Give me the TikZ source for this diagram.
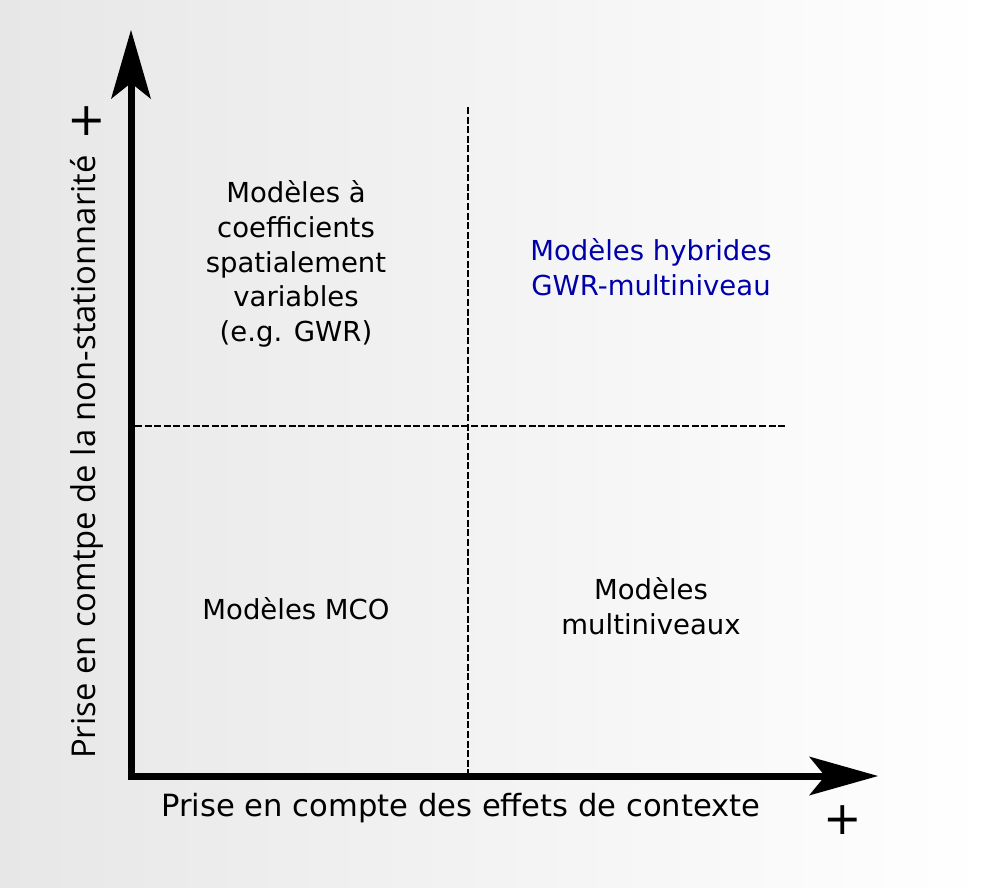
\documentclass[tikz,border=0pt]{standalone}
\usepackage{fontspec}
\setmainfont{DejaVu Sans}
\newfontfamily\vfont{Open Sans}
\usetikzlibrary{arrows.meta}
\definecolor{bgleft}{RGB}{231,231,231}
\definecolor{hyblue}{RGB}{0,0,170}
\tikzset{
  axis/.style={line width=7pt, line cap=butt},
  divider/.style={line width=1.5pt, dash pattern=on 7pt off 2.6pt},
  quad/.style={align=center, font=\fontsize{27.5}{34.8}\selectfont, inner sep=0pt},
  plussign/.style={font=\fontsize{46}{46}\selectfont, inner sep=0pt},
}
\begin{document}
\begin{tikzpicture}[x=1pt,y=-1pt]
\useasboundingbox (0,0) rectangle (988,887);
\shade[left color=bgleft, right color=white] (0,0) rectangle (988,887);
% coordinates
\coordinate (origin) at (131,776);
\coordinate (hstart) at (127.5,776);
\coordinate (ytip) at (131,30);
\coordinate (xtip) at (878,776);
\coordinate (vtop) at (468,107);
\coordinate (vbot) at (468,776);
\coordinate (hleft) at (135,426);
\coordinate (hright) at (786,426);
% dashed dividers
\draw[divider] (vtop) -- (vbot);
\draw[divider] (hleft) -- (hright);
% axes
\draw[axis, -{Stealth[length=69pt,width=40pt,inset=16pt,line width=0pt]}] (131,779.5) -- (ytip);
\draw[axis, -{Stealth[length=69pt,width=39pt,inset=16pt,line width=0pt]}] (hstart) -- (xtip);
% labels
\node[quad] (tl) at (296,264) {Modèles à\\coefficients\\spatialement\\variables\\(e.g. GWR)};
\node[quad, text=hyblue] (tr) at (651,267) {Modèles hybrides\\GWR-multiniveau};
\node[quad] (bl) at (296,609) {Modèles MCO};
\node[quad] (br) at (651,606) {Modèles\\multiniveaux};
\node[font=\fontsize{30.6}{34}\selectfont, inner sep=0pt] (xlabel) at (461,808) {Prise en compte des effets de contexte};
\node[font=\vfont\fontsize{32.8}{36}\selectfont, inner sep=0pt, rotate=90] (ylabel) at (87,457) {Prise en comtpe de la non-stationnarité};
\node[plussign] (yplus) at (87,121) {+};
\node[plussign] (xplus) at (843,820) {+};
\end{tikzpicture}
\end{document}
